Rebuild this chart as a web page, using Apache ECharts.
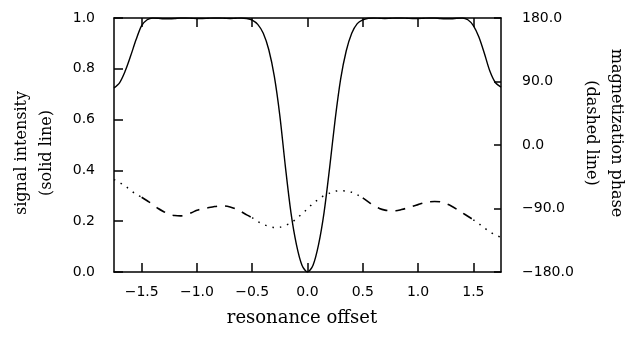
<!DOCTYPE html>
<html>
<head>
<meta charset="utf-8">
<script src="https://cdn.jsdelivr.net/npm/echarts@6/dist/echarts.min.js"></script>
<style>
  html, body { margin: 0; padding: 0; background: #fff; }
  #chart { width: 628px; height: 343px; }
</style>
</head>
<body>
<div id="chart"></div>
<script>
// resonance offset samples
const offset = [
  -1.75, -1.70, -1.65, -1.60, -1.55, -1.50, -1.45, -1.40, -1.35, -1.30,
  -1.25, -1.20, -1.15, -1.10, -1.05, -1.00, -0.95, -0.90, -0.85, -0.80,
  -0.75, -0.70, -0.65, -0.60, -0.55, -0.50, -0.45, -0.40, -0.35, -0.30,
  -0.25, -0.20, -0.15, -0.10, -0.05, 0.00, 0.05, 0.10, 0.15, 0.20,
  0.25, 0.30, 0.35, 0.40, 0.45, 0.50, 0.55, 0.60, 0.65, 0.70,
  0.75, 0.80, 0.85, 0.90, 0.95, 1.00, 1.05, 1.10, 1.15, 1.20,
  1.25, 1.30, 1.35, 1.40, 1.45, 1.50, 1.55, 1.60, 1.65, 1.70,
  1.75
];

// signal intensity (solid line), left axis
const signal = [
  0.725, 0.745, 0.79, 0.85, 0.915, 0.97, 0.993, 1.0, 0.999, 0.997,
  0.997, 0.998, 1.0, 1.0, 0.999, 0.998, 0.998, 0.999, 1.0, 1.0,
  0.999, 0.998, 0.999, 1.0, 0.998, 0.992, 0.975, 0.94, 0.875, 0.77,
  0.615, 0.415, 0.235, 0.108, 0.027, 0.0, 0.027, 0.108, 0.235, 0.41,
  0.6, 0.76, 0.87, 0.94, 0.978, 0.993, 0.999, 1.0, 0.999, 0.998,
  0.999, 1.0, 1.0, 0.999, 0.998, 0.998, 0.999, 1.0, 1.0, 0.998,
  0.997, 0.997, 0.999, 1.0, 0.993, 0.97, 0.925, 0.86, 0.79, 0.745,
  0.728
];

// magnetization phase in degrees (dashed line), right axis
const phase = [
  -49, -53, -58, -64, -70, -74, -79, -84, -90, -94.5,
  -98.3, -100, -100.5, -99, -96, -92.5, -90, -89, -87.5, -86.5,
  -86.5, -87.8, -90.5, -94.5, -99, -103, -108.5, -112.5, -115.2, -116.8,
  -116.5, -113.7, -110.5, -104.5, -97.5, -90.5, -82.5, -77, -71.5, -68.2,
  -65.5, -64.8, -65.3, -67, -70.5, -75, -80.5, -86, -90, -92.3,
  -93.3, -93.2, -91.5, -89.5, -87, -84.5, -82, -80.5, -80, -80.5,
  -83, -86.5, -91, -96, -101, -106, -111.5, -117.5, -123, -127.5,
  -131
];

// offset ranges where the phase curve is drawn dashed (dotted elsewhere)
const dashedRanges = [[-1.5, -0.5], [0.5, 1.5]];

const xTicks = [-1.5, -1.0, -0.5, 0.0, 0.5, 1.0, 1.5];
const signalTicks = { min: 0, max: 1, step: 0.2 };
const phaseTicks = { min: -180, max: 180, step: 90 };

const inDashed = x => dashedRanges.some(r => x >= r[0] - 1e-9 && x <= r[1] + 1e-9);
const onEdge = x => dashedRanges.some(r => Math.abs(x - r[0]) < 1e-9 || Math.abs(x - r[1]) < 1e-9);
const dashedData = offset.map((x, i) => inDashed(x) ? [x, phase[i]] : [x, '-']);
const dottedData = offset.map((x, i) => (!inDashed(x) || onEdge(x)) ? [x, phase[i]] : [x, '-']);

const fmt = v => v.toFixed(1).replace('-', '\u2212');
const tickFont = { color: '#000', fontFamily: 'DejaVu Sans', fontSize: 14 };
const titleFont = 'DejaVu Serif';
const axisLine = { show: true, onZero: false, lineStyle: { color: '#000', width: 1.5 } };

const chart = echarts.init(document.getElementById('chart'));
chart.setOption({
  animation: false,
  backgroundColor: '#fff',
  grid: { left: 114, right: 127, top: 18, bottom: 71, containLabel: false, outerBoundsMode: 'none' },
  xAxis: [
    {
      type: 'value', position: 'bottom',
      min: -1.75, max: 1.75,
      axisLine: axisLine,
      axisTick: { show: true, inside: true, length: 9, customValues: xTicks, lineStyle: { color: '#000', width: 1.5 } },
      axisLabel: { ...tickFont, margin: 13, customValues: xTicks, formatter: fmt },
      splitLine: { show: false }
    },
    {
      type: 'value', position: 'top',
      min: -1.75, max: 1.75,
      axisLine: axisLine,
      axisTick: { show: true, inside: true, length: 9, customValues: xTicks, lineStyle: { color: '#000', width: 1.5 } },
      axisLabel: { show: false },
      splitLine: { show: false }
    }
  ],
  yAxis: [
    {
      type: 'value', position: 'left',
      min: signalTicks.min, max: signalTicks.max, interval: signalTicks.step,
      axisLine: axisLine,
      axisTick: { show: true, inside: true, length: 9, lineStyle: { color: '#000', width: 1.5 } },
      axisLabel: { ...tickFont, margin: 19, formatter: fmt },
      splitLine: { show: false }
    },
    {
      type: 'value', position: 'right',
      min: phaseTicks.min, max: phaseTicks.max, interval: phaseTicks.step,
      axisLine: axisLine,
      axisTick: { show: true, inside: true, length: 7, lineStyle: { color: '#000', width: 1.5 } },
      axisLabel: { ...tickFont, margin: 21, formatter: fmt },
      splitLine: { show: false }
    }
  ],
  graphic: [
    {
      type: 'text', x: 34, y: 153, rotation: Math.PI / 2,
      style: {
        text: 'signal intensity\n(solid line)', fill: '#000',
        font: '16px "' + titleFont + '"', lineHeight: 25,
        align: 'center', verticalAlign: 'middle'
      }
    },
    {
      type: 'text', x: 604, y: 133, rotation: -Math.PI / 2,
      style: {
        text: 'magnetization phase\n(dashed line)', fill: '#000',
        font: '16px "' + titleFont + '"', lineHeight: 25,
        align: 'center', verticalAlign: 'middle'
      }
    },
    {
      type: 'text', x: 302, y: 318,
      style: {
        text: 'resonance offset', fill: '#000',
        font: '18px "' + titleFont + '"',
        align: 'center', verticalAlign: 'middle'
      }
    }
  ],
  series: [
    {
      name: 'signal intensity', type: 'line', xAxisIndex: 0, yAxisIndex: 0,
      data: offset.map((x, i) => [x, signal[i]]),
      showSymbol: false, smooth: 0.3,
      lineStyle: { color: '#000', width: 1.4 }
    },
    {
      name: 'phase dashed', type: 'line', xAxisIndex: 0, yAxisIndex: 1,
      data: dashedData, connectNulls: false,
      showSymbol: false, smooth: 0.3,
      lineStyle: { color: '#000', width: 1.6, type: [10, 8] }
    },
    {
      name: 'phase dotted', type: 'line', xAxisIndex: 0, yAxisIndex: 1,
      data: dottedData, connectNulls: false,
      showSymbol: false, smooth: 0.3,
      lineStyle: { color: '#000', width: 1.5, type: [1.5, 6] }
    }
  ]
});
</script>
</body>
</html>
